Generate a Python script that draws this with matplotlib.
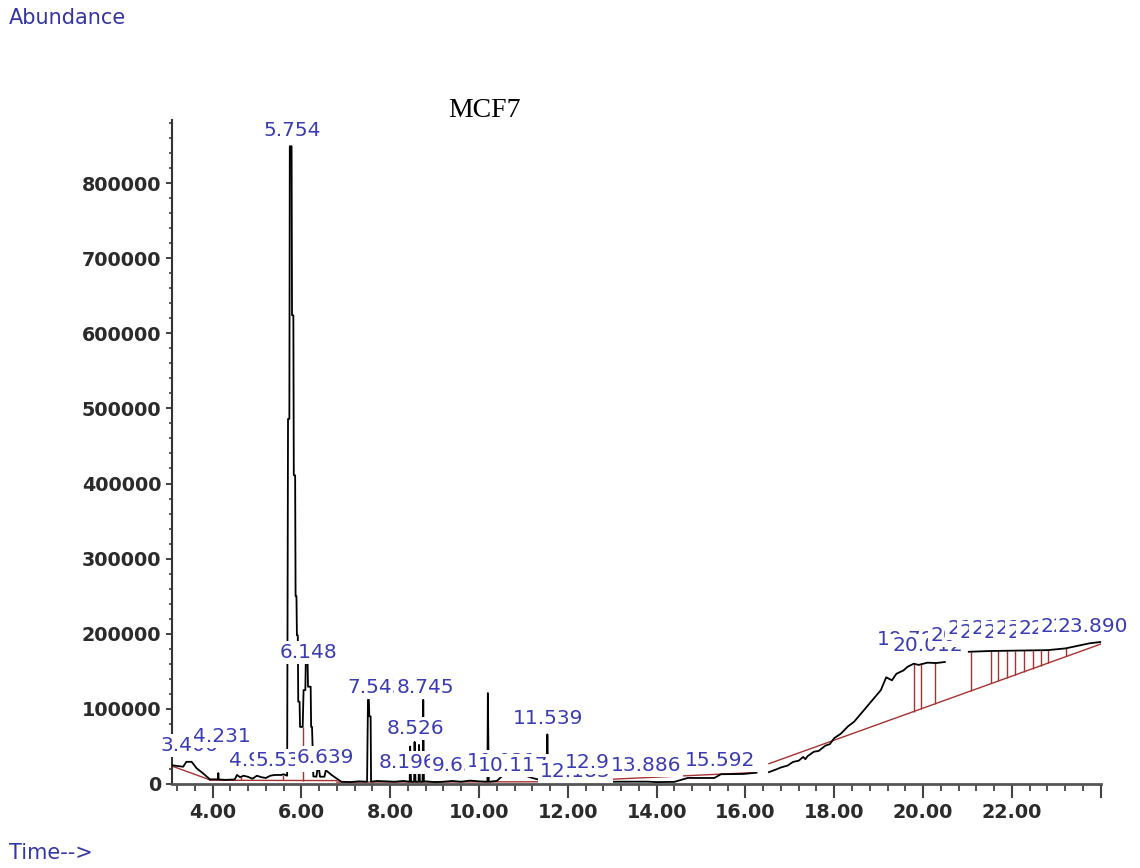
# GC-MS total ion chromatogram of MCF7, redrawn from the instrument print-out
import numpy as np
import matplotlib.pyplot as plt
from matplotlib.ticker import MultipleLocator

# chromatogram trace (retention time in min, abundance), nan = break in the trace
trace_t = [3.08, 3.20, 3.34, 3.41, 3.53, 3.64, 3.79, 3.94, 4.12, 4.13, 4.14, 4.30,
           4.50, 4.55, 4.62, 4.70, 4.80, 4.90, 5.00, 5.10, 5.20, 5.30, 5.40, 5.55,
           5.60, 5.68, 5.70, 5.73, 5.74, 5.78, 5.79, 5.82, 5.83, 5.86, 5.87, 5.89,
           5.90, 5.92, 5.93, 5.96, 5.97, 6.03, 6.05, 6.09, 6.10, 6.14, 6.15, 6.21,
           6.22, 6.24, 6.25, 6.27, 6.34, 6.36, 6.40, 6.42, 6.52, 6.55, 6.60, 6.68,
           6.79, 6.90, 7.10, 7.30, 7.48, 7.50, 7.52, 7.53, 7.56, 7.57, 7.70, 7.90,
           8.10, 8.30, 8.44, 8.45, 8.47, 8.54, 8.55, 8.57, 8.64, 8.65, 8.67, 8.73,
           8.745, 8.76, 8.80, 9.00, 9.20, 9.40, 9.60, 9.80, 10.00, 10.19, 10.20, 10.22,
           10.40, 10.55, 10.65, 10.80, 11.00, 11.20, 11.40, 11.52, 11.54, 11.56, 11.70, 12.00,
           12.30, 12.70, 12.90, 13.50, 13.80, 14.00, 14.40, 14.70, 15.30, 15.45, 15.95, 16.25,
           np.nan,
           16.53, 16.70, 16.80, 16.95, 17.07, 17.20, 17.30, 17.35, 17.40, 17.54, 17.65, 17.80,
           17.90, 18.00, 18.15, 18.31, 18.45, 18.62, 18.75, 18.94, 19.05, 19.17, 19.30,
           19.40, 19.56, 19.65, 19.79, 19.90, 20.10, 20.30, 20.49,
           np.nan,
           21.03, 21.50, 22.00, 22.81, 23.21, 23.75, 24.00]
trace_a = [25000, 24000, 23000, 29500, 29500, 21000, 14000, 6200, 6200, 14500, 6000, 5500,
           6000, 12000, 9000, 11000, 9500, 7000, 11000, 9000, 8000, 11000, 12000, 12000,
           13000, 11000, 486000, 486000, 849000, 849000, 624000, 624000, 411000, 411000, 250000, 250000,
           198000, 198000, 109500, 109500, 76000, 76000, 125000, 125000, 165000, 165000, 129500, 129500,
           76000, 76000, 56000, 10000, 9700, 19000, 19000, 9700, 9700, 18000, 16000, 12000,
           7500, 3000, 2500, 3500, 3000, 112000, 112000, 90000, 90000, 3000, 4000, 3500,
           3000, 4000, 3000, 50000, 3000, 3000, 56000, 3000, 3000, 52000, 3000, 3000,
           112000, 3000, 3500, 2500, 3000, 4000, 3000, 4500, 3500, 3000, 121000, 3000,
           4000, 12000, 14000, 11000, 12000, 8000, 5000, 4000, 66000, 4000, 3500, 3000,
           5000, 5300, 3000, 3000, 3100, 2500, 2800, 8000, 8000, 13000, 13300, 15000,
           np.nan,
           15800, 19500, 22000, 24500, 29300, 31000, 36000, 33000, 37000, 42900, 44000, 51000,
           53000, 61000, 67000, 76700, 83000, 94800, 104000, 117300, 125000, 142000, 138000,
           146700, 151200, 156000, 160100, 158500, 161500, 161000, 162400,
           np.nan,
           176000, 177000, 177500, 178200, 180500, 187300, 189000]

# integration baselines (red), one pair of end points per segment
base_t = [[3.08, 3.94], [3.94, 6.80], [6.80, 12.30], [12.30, 16.12], [16.53, 24.00]]
base_a = [[24000, 5500], [5000, 4500], [2500, 3000], [4400, 15000], [27000, 186200]]

# drop lines between integrated peaks
drop_t = [4.65, 5.58, 6.03]
drop_lo = [5000, 5000, 4600]
drop_hi = [9000, 12000, 76000]
late_drop_t = [19.79, 19.96, 20.26, 21.07, 21.54, 21.69, 21.89, 22.08, 22.27, 22.47,
               22.66, 22.82, 23.23]
late_drop_hi = [160000, 161000, 162000, 176000, 177000, 177000, 177500, 177500, 178000,
                178000, 178000, 178200, 181000]

# peak labels as printed (many overlap and hide each other)
peak_labels = ["3.406", "4.231", "4.985", "5.535", "5.754", "6.148", "6.639", "7.543",
               "8.196", "8.526", "8.745", "9.638", "10.031", "10.117", "11.539", "12.183",
               "12.951", "13.886", "15.592",
               "19.791", "20.012", "20.262", "21.071", "21.541", "21.694", "21.886",
               "22.081", "22.274", "22.466", "22.820", "23.890"]
label_t = [3.48, 4.21, 5.01, 5.62, 5.79, 6.17, 6.55, 7.69,
           8.40, 8.56, 8.79, 9.58, 10.52, 10.77, 11.55, 12.17,
           12.73, 13.76, 15.43,
           19.76, 20.10, 20.96, 21.34, 21.61, 21.88, 22.15,
           22.42, 22.69, 22.94, 23.44, 23.83]
label_a = [50600, 62600, 31900, 31900, 870500, 174400, 34600, 127800,
           28000, 74500, 129100, 24000, 30000, 24000, 87800, 16000,
           28000, 24000, 31900,
           191700, 185000, 198300, 207600, 202300, 207600, 202300,
           207600, 202300, 207600, 209000, 209000]

x_ticks = [4, 6, 8, 10, 12, 14, 16, 18, 20, 22, 24]
y_ticks = [0, 100000, 200000, 300000, 400000, 500000, 600000, 700000, 800000]

red = '#a83232'
blue = '#3b3bb5'

fig = plt.figure(figsize=(11.4, 8.68), dpi=100)
ax = fig.add_axes([0.1506, 0.0968, 0.8149, 0.765])

ax.plot(trace_t, trace_a, color='black', lw=1.3, zorder=3)
for st, sa in zip(base_t, base_a):
    ax.plot(st, sa, color=red, lw=1.0, zorder=2)
ax.vlines(drop_t, drop_lo, drop_hi, color=red, lw=1.0, zorder=2)
late_lo = np.interp(late_drop_t, base_t[-1], base_a[-1])
ax.vlines(late_drop_t, late_lo, late_drop_hi, color=red, lw=1.0, zorder=2)

# later labels are drawn on top of earlier ones, like the print-out
for i, (txt, t, a) in enumerate(zip(peak_labels, label_t, label_a)):
    ax.text(t, a, txt, ha='center', va='center', fontsize=14.5, color=blue,
            bbox=dict(facecolor='white', edgecolor='none', pad=1.5), zorder=5 + i * 0.01)

ax.set_xlim(3.08, 24.0)
ax.set_ylim(0, 884000)

ax.spines['top'].set_visible(False)
ax.spines['right'].set_visible(False)
ax.spines['left'].set_color('#333333')
ax.spines['left'].set_linewidth(1.5)
ax.spines['bottom'].set_color('#555555')
ax.spines['bottom'].set_linewidth(2)

ax.set_xticks(x_ticks)
ax.set_xticklabels(['%.2f' % v if v < 24 else '' for v in x_ticks])
ax.xaxis.set_minor_locator(MultipleLocator(0.4))
ax.set_yticks(y_ticks)
ax.set_yticklabels([str(v) for v in y_ticks])
ax.yaxis.set_minor_locator(MultipleLocator(20000))

ax.tick_params(axis='x', which='major', length=10, width=1.5, pad=3.5, color='#444444')
ax.tick_params(axis='x', which='minor', length=5, width=1.3, color='#444444')
ax.tick_params(axis='y', which='major', length=4.5, width=1.3, pad=3, color='#333333')
ax.tick_params(axis='y', which='minor', length=2.5, width=1.1, color='#333333')
for lab in ax.get_xticklabels() + ax.get_yticklabels():
    lab.set_fontsize(13.8)
    lab.set_fontweight('bold')
    lab.set_color('#2b2b2b')

fig.text(0.425, 0.873, 'MCF7', family='Liberation Serif', fontsize=20,
         ha='center', va='center')
fig.text(9 / 1140, 1 - 18 / 868, 'Abundance', fontsize=15, color='#3535a5',
         ha='left', va='center')
fig.text(9 / 1140, 1 - 853 / 868, 'Time-->', fontsize=15, color='#3535a5',
         ha='left', va='center')

fig.savefig('out.png', dpi=100)
